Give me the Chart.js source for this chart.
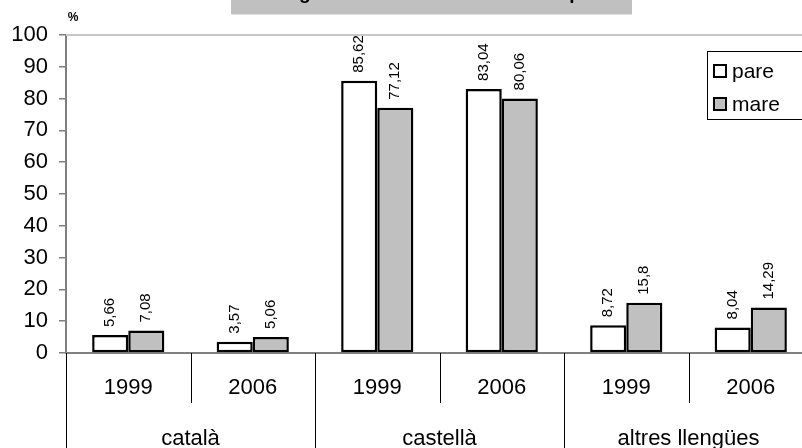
<!DOCTYPE html>
<html>
<head>
<meta charset="utf-8">
<script src="https://cdn.jsdelivr.net/npm/chart.js@4.4.1/dist/chart.umd.min.js"></script>
<style>
    body { margin: 0; background: #fff; }
    #wrap { width: 802px; height: 448px; overflow: hidden; position: relative; }
    #inner { width: 814px; height: 448px; position: relative; }
</style>
</head>
<body>
<div id="wrap"><div id="inner"><canvas id="chart"></canvas></div></div>
<script>
// Chart data
const years = ['1999', '2006', '1999', '2006', '1999', '2006'];
const groups = ['català', 'castellà', 'altres llengües'];
const pareValues = [5.66, 3.57, 85.62, 83.04, 8.72, 8.04];
const mareValues = [7.08, 5.06, 77.12, 80.06, 15.8, 14.29];
const seriesNames = ['pare', 'mare'];
const yMax = 100;
const yStep = 10;
const unitLabel = '%';
const titleText = 'Llengua habitual utilitzada amb el pare i la mare';

const FONT = '"Liberation Sans", Arial, sans-serif';

function formatValue(v) {
    return String(v).replace('.', ',');
}

// Extra drawing: separators, value labels, legend, title
const extrasPlugin = {
    id: 'extras',
    afterDraw(chart) {
        const ctx = chart.ctx;
        const x = chart.scales.x;
        const area = chart.chartArea;
        const half = (x.getPixelForValue(1) - x.getPixelForValue(0)) / 2;

        ctx.save();

        // top border of plot area
        ctx.strokeStyle = '#c8c8c8';
        ctx.lineWidth = 2;
        ctx.beginPath();
        ctx.moveTo(area.left, area.top);
        ctx.lineTo(chart.width, area.top);
        ctx.stroke();

        // category separators
        ctx.strokeStyle = '#000';
        ctx.lineWidth = 1;
        for (let i = 0; i <= years.length; i++) {
            const px = Math.round(x.getPixelForValue(i) - half) + 0.5;
            const bottom = i % 2 === 0 ? chart.height : area.bottom + 50;
            ctx.beginPath();
            ctx.moveTo(px, area.bottom);
            ctx.lineTo(px, bottom);
            ctx.stroke();
        }

        // group labels
        ctx.fillStyle = '#000';
        ctx.font = '22px ' + FONT;
        ctx.textAlign = 'center';
        ctx.textBaseline = 'alphabetic';
        groups.forEach((g, i) => {
            const cx = (x.getPixelForValue(i * 2) + x.getPixelForValue(i * 2 + 1)) / 2;
            ctx.fillText(g, cx, 445);
        });

        // value labels, rotated
        ctx.font = '15px ' + FONT;
        ctx.textAlign = 'left';
        ctx.textBaseline = 'middle';
        chart.data.datasets.forEach((ds, di) => {
            const meta = chart.getDatasetMeta(di);
            meta.data.forEach((bar, i) => {
                ctx.save();
                ctx.translate(bar.x, bar.y - 8);
                ctx.rotate(-Math.PI / 2);
                ctx.fillText(formatValue(ds.data[i]), 0, 0);
                ctx.restore();
            });
        });

        // legend
        ctx.strokeStyle = '#000';
        ctx.lineWidth = 1;
        ctx.strokeRect(707.5, 51.5, 130, 68);
        ctx.font = '21px ' + FONT;
        ctx.textBaseline = 'alphabetic';
        chart.data.datasets.forEach((ds, di) => {
            const sy = 65 + di * 33;
            ctx.fillStyle = ds.backgroundColor;
            ctx.fillRect(714, sy, 12, 12);
            ctx.lineWidth = 2;
            ctx.strokeRect(714, sy, 12, 12);
            ctx.fillStyle = '#000';
            ctx.fillText(ds.label, 732, sy + 13);
        });

        // unit label
        ctx.font = 'bold 12px ' + FONT;
        ctx.textAlign = 'center';
        ctx.fillText(unitLabel, 73, 21);

        // title box (cut by the top edge)
        ctx.fillStyle = '#c0c0c0';
        ctx.fillRect(231, 0, 401, 14.5);
        ctx.fillStyle = '#000';
        ctx.font = 'bold 19px ' + FONT;
        ctx.textAlign = 'left';
        ctx.fillText(titleText, 260, -1);

        ctx.restore();
    }
};

new Chart(document.getElementById('chart'), {
    type: 'bar',
    data: {
        labels: years,
        datasets: [
            {
                label: seriesNames[0],
                data: pareValues,
                backgroundColor: '#ffffff',
                borderColor: '#000000',
                borderWidth: 2.5,
                borderSkipped: false,
                categoryPercentage: 0.58,
                barPercentage: 1
            },
            {
                label: seriesNames[1],
                data: mareValues,
                backgroundColor: '#c0c0c0',
                borderColor: '#000000',
                borderWidth: 2.5,
                borderSkipped: false,
                categoryPercentage: 0.58,
                barPercentage: 1
            }
        ]
    },
    options: {
        responsive: true,
        maintainAspectRatio: false,
        animation: false,
        layout: { padding: { top: 35, right: 1, left: 0, bottom: 0 } },
        plugins: {
            legend: { display: false },
            title: { display: false },
            tooltip: { enabled: false }
        },
        scales: {
            x: {
                grid: { display: false, drawTicks: false },
                border: { display: true, color: '#808080', width: 2 },
                ticks: {
                    color: '#000',
                    font: { family: FONT, size: 22 },
                    padding: 22,
                    maxRotation: 0,
                    autoSkip: false
                },
                afterFit: scale => { scale.height = 95; }
            },
            y: {
                min: 0,
                max: yMax,
                ticks: {
                    stepSize: yStep,
                    color: '#000',
                    font: { family: FONT, size: 22 },
                    padding: 11
                },
                grid: { drawOnChartArea: false, color: '#808080', lineWidth: 1.5, tickLength: 7 },
                border: { color: '#808080', width: 2 },
                afterFit: scale => { scale.width = 66; }
            }
        }
    },
    plugins: [extrasPlugin]
});
</script>
</body>
</html>
